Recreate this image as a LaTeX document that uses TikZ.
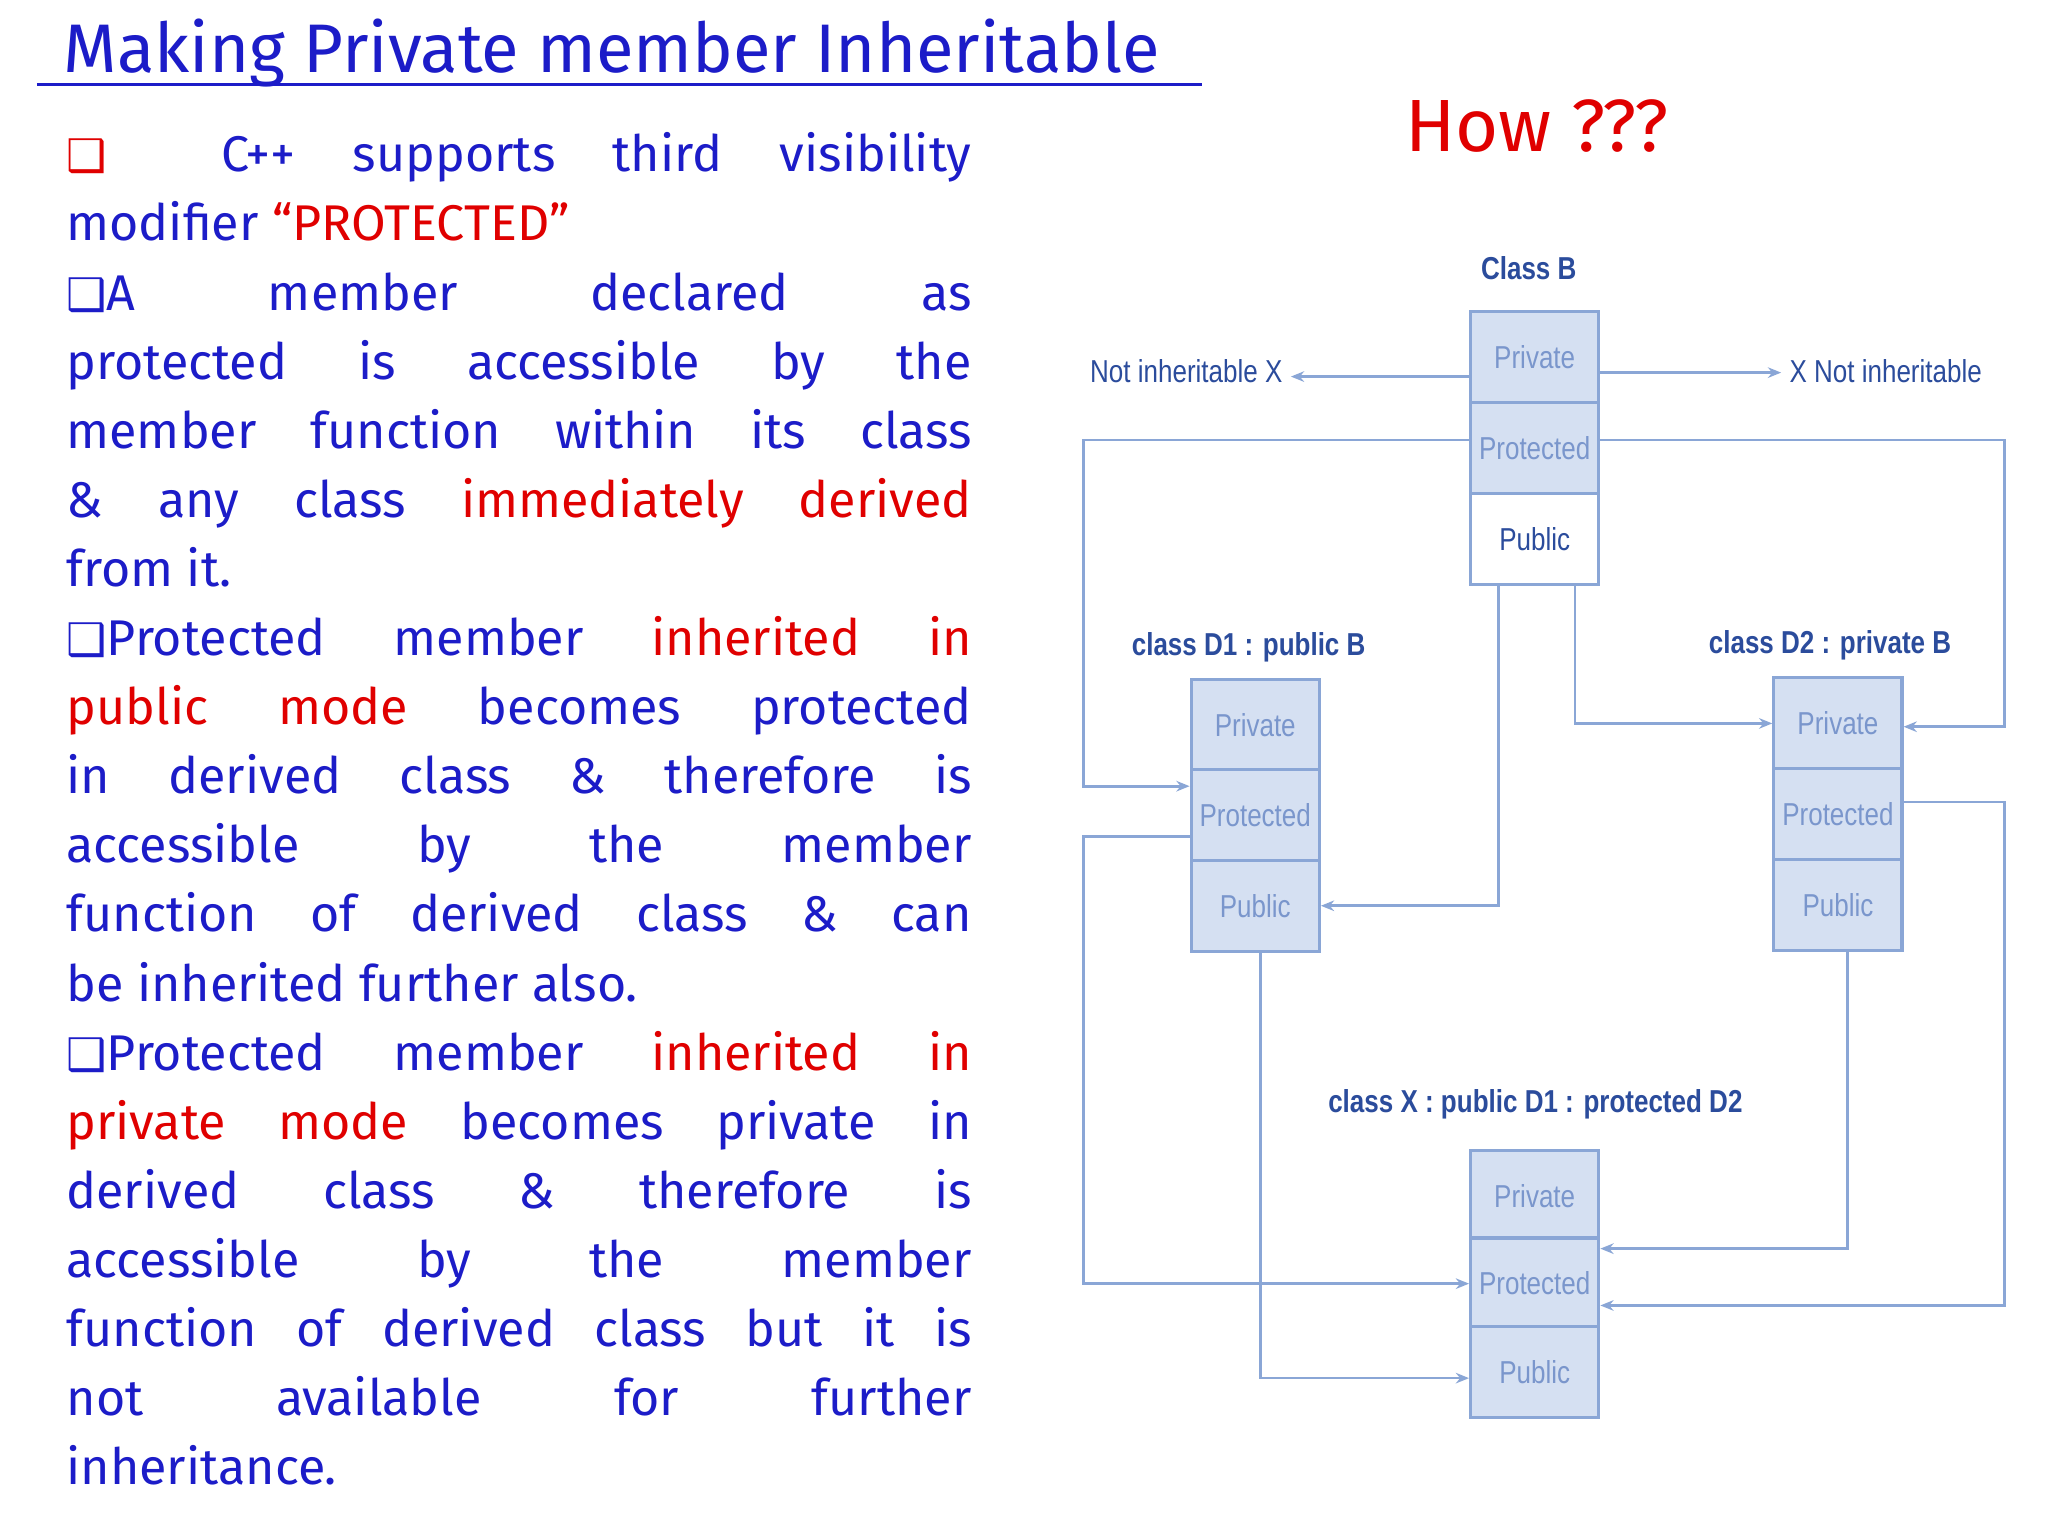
\documentclass[tikz,border=0pt]{standalone}
\usepackage{fontspec}
\setmainfont{Fira Sans}
\newfontfamily\diafont[FakeStretch=0.82]{Liberation Sans}
\newfontfamily\symfont{DejaVu Sans}
\usetikzlibrary{arrows.meta}
\definecolor{txtblue}{HTML}{1C1CC8}
\definecolor{txtred}{HTML}{E00000}
\definecolor{boxline}{HTML}{8AA6D6}
\definecolor{boxfill}{HTML}{D5E0F2}
\definecolor{celltxt}{HTML}{7A96CC}
\definecolor{lbltxt}{HTML}{2B4C9C}
\newcommand{\rd}[1]{\textcolor{txtred}{#1}}
\newcommand{\bx}[1]{{\symfont\fontsize{17}{20}\selectfont #1}}
\tikzset{
  cell/.style={draw=boxline, line width=1.2pt, fill=boxfill, minimum width=48.5pt, minimum height=34.5pt, inner sep=0pt, text=celltxt, font=\diafont\fontsize{12}{14}\selectfont},
  lbl/.style={text=lbltxt, font=\diafont\bfseries\fontsize{12}{14}\selectfont, inner sep=3pt},
  conn/.style={draw=boxline, line width=1pt},
  arr/.style={conn, -{Stealth[length=5pt,width=4pt]}}
}
\begin{document}
\begin{tikzpicture}[x=0.5pt,y=-0.5pt]
\useasboundingbox (0,0) rectangle (1550,1162);
\fill[white] (0,0) rectangle (1550,1162);
% title
\node[anchor=base west, inner sep=0pt, text=txtblue, font=\fontsize{26}{30}\selectfont] (title) at (48,55) {Making Private member Inheritable};
\draw[txtblue, line width=1.2pt] (28,64) -- (910,64);
\node[text=txtred, font=\fontsize{28}{32}\selectfont] (how) at (1163,95) {How ???};
% body text
\node[anchor=north west, inner sep=0pt, text width=342.5pt, text=txtblue, align=justify, font=\fontsize{19}{26.15}\selectfont] (body) at (50,100) {%
\rd{\bx{❑}}\ \ C++ supports third visibility\linebreak
modifier \rd{“PROTECTED”}\newline
\bx{❑}A member declared as\linebreak
protected is accessible by the\linebreak
member function within its class\linebreak
\& any class \rd{immediately derived}\linebreak
from it.\newline
\bx{❑}Protected member \rd{inherited in}\linebreak
\rd{public mode} becomes protected\linebreak
in derived class \& therefore is\linebreak
accessible by the member\linebreak
function of derived class \& can\linebreak
be inherited further also.\newline
\bx{❑}Protected member \rd{inherited in}\linebreak
\rd{private mode} becomes private in\linebreak
derived class \& therefore is\linebreak
accessible by the member\linebreak
function of derived class but it is\linebreak
not available for further\linebreak
inheritance.};
% boundaries
\coordinate (L) at (820,0);
\coordinate (R) at (1517,0);
% class B
\node[lbl] (lb) at (1157,203) {Class B};
\node[cell] (bpri) at (1161.5,270) {Private};
\node[cell] (bpro) at (1161.5,339) {Protected};
\node[cell, fill=white, text=lbltxt] (bpub) at (1161.5,408) {Public};
% class D1
\node[lbl] (ld1) at (945,490) {class D1 : public B};
\node[cell] (d1pri) at (950,549) {Private};
\node[cell] (d1pro) at (950,617) {Protected};
\node[cell] (d1pub) at (950,685.5) {Public};
% class D2
\node[lbl] (ld2) at (1385,488) {class D2 : private B};
\node[cell] (d2pri) at (1391,547.5) {Private};
\node[cell] (d2pro) at (1391,616) {Protected};
\node[cell] (d2pub) at (1391,685) {Public};
% class X
\node[lbl] (lx) at (1162,836) {class X : public D1 : protected D2};
\node[cell] (xpri) at (1161.5,905) {Private};
\node[cell] (xpro) at (1161.5,971.5) {Protected};
\node[cell] (xpub) at (1161.5,1038.5) {Public};
% not inheritable
\node[lbl, font=\diafont\fontsize{12}{14}\selectfont, anchor=east] (ni1) at (977,281) {Not inheritable X};
\node[lbl, font=\diafont\fontsize{12}{14}\selectfont, anchor=west] (ni2) at (1348,281) {X Not inheritable};
\draw[arr] ([yshift=-7.5pt]bpri.west) -- ([yshift=-7.5pt]bpri.west -| ni1.east);
\draw[arr] ([yshift=-6pt]bpri.east) -- ([yshift=-6pt]bpri.east -| ni2.west);
% connectors
\draw[arr] ([yshift=3pt]bpro.west) -- ([yshift=3pt]bpro.west -| L) |- ([yshift=11pt]d1pro.west);
\draw[arr] ([yshift=3pt]bpro.east) -| ([yshift=-1.25pt]d2pri.east -| R) -- ([yshift=-1.25pt]d2pri.east);
\draw[arr] ([xshift=-13.75pt]bpub.south) |- (d1pub.east);
\draw[arr] ([xshift=15.25pt]bpub.south) |- (d2pri.west);
\draw[arr] ([yshift=-8pt]d1pro.west) -- ([yshift=-8pt]d1pro.west -| L) |- (xpro.west);
\draw[arr] ([xshift=2pt]d1pub.south) |- ([yshift=-2.25pt]xpub.west);
\draw[arr] ([xshift=3.5pt]d2pub.south) |- ([yshift=13.25pt]xpro.east);
\draw[arr] ([yshift=4.5pt]d2pro.east) -- ([yshift=4.5pt]d2pro.east -| R) |- ([yshift=-8.25pt]xpro.east);
\end{tikzpicture}
\end{document}
